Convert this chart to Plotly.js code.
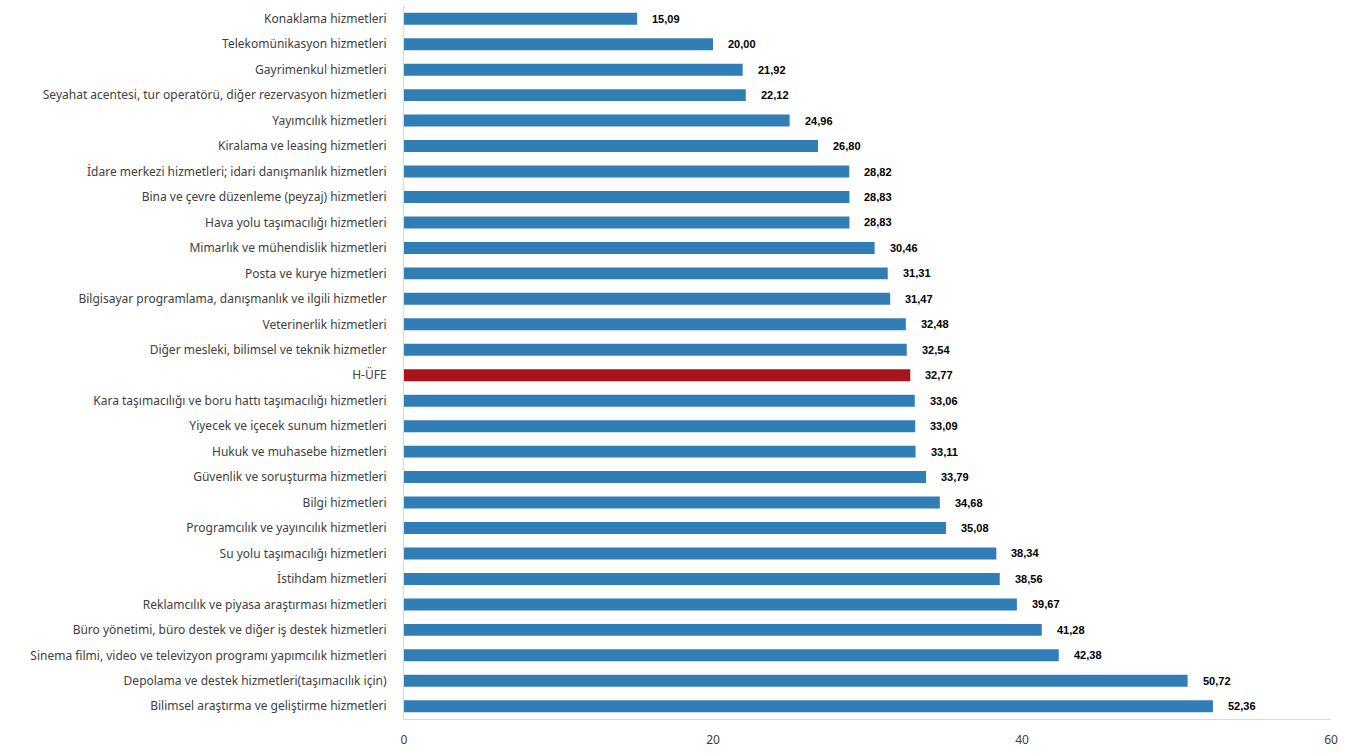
<!DOCTYPE html>
<html><head><meta charset="utf-8">
<script src="https://cdn.plot.ly/plotly-3.0.1.min.js"></script>
<style>html,body{margin:0;padding:0;background:#fff}#chart{width:1356px;height:756px}</style>
</head><body><div id="chart"></div>
<script>
const categories = [
"Konaklama hizmetleri",
"Telekomünikasyon hizmetleri",
"Gayrimenkul hizmetleri",
"Seyahat acentesi, tur operatörü, diğer rezervasyon hizmetleri",
"Yayımcılık hizmetleri",
"Kiralama ve leasing hizmetleri",
"İdare merkezi hizmetleri; idari danışmanlık hizmetleri",
"Bina ve çevre düzenleme (peyzaj) hizmetleri",
"Hava yolu taşımacılığı hizmetleri",
"Mimarlık ve mühendislik hizmetleri",
"Posta ve kurye hizmetleri",
"Bilgisayar programlama, danışmanlık ve ilgili hizmetler",
"Veterinerlik hizmetleri",
"Diğer mesleki, bilimsel ve teknik hizmetler",
"H-ÜFE",
"Kara taşımacılığı ve boru hattı taşımacılığı hizmetleri",
"Yiyecek ve içecek sunum hizmetleri",
"Hukuk ve muhasebe hizmetleri",
"Güvenlik ve soruşturma hizmetleri",
"Bilgi hizmetleri",
"Programcılık ve yayıncılık hizmetleri",
"Su yolu taşımacılığı hizmetleri",
"İstihdam hizmetleri",
"Reklamcılık ve piyasa araştırması hizmetleri",
"Büro yönetimi, büro destek ve diğer iş destek hizmetleri",
"Sinema filmi, video ve televizyon programı yapımcılık hizmetleri",
"Depolama ve destek hizmetleri(taşımacılık için)",
"Bilimsel araştırma ve geliştirme hizmetleri"
];
const values = [15.09,20.00,21.92,22.12,24.96,26.80,28.82,28.83,28.83,30.46,31.31,31.47,32.48,32.54,32.77,33.06,33.09,33.11,33.79,34.68,35.08,38.34,38.56,39.67,41.28,42.38,50.72,52.36];
const highlight = "H-ÜFE";
const tickVals = [0,20,40,60];

const BLUE = "#317DB6", RED = "#A8141C";
const colors = categories.map(c => c === highlight ? RED : BLUE);
const fmt = v => v.toFixed(2).replace(".", ",");

const trace = {
  type: "bar", orientation: "h",
  x: values, y: categories,
  marker: {color: colors},
  width: 0.47,
  hoverinfo: "x+y"
};

const annotations = values.map((v, i) => ({
  x: v, y: categories[i], xref: "x", yref: "y",
  text: fmt(v), showarrow: false, xanchor: "left", yanchor: "middle",
  xshift: 13,
  font: {family: "Liberation Sans, Arial, sans-serif", size: 11, color: "#000", weight: "bold"}
}));

const layout = {
  width: 1356, height: 756,
  margin: {l: 404, r: 25, t: 6, b: 37, pad: 0},
  paper_bgcolor: "#fff", plot_bgcolor: "#fff",
  showlegend: false,
  bargap: 0.53,
  xaxis: {
    range: [0, 60], tickvals: tickVals, ticktext: tickVals.map(String),
    showgrid: false, zeroline: false,
    showline: true, linecolor: "#d9d9d9", linewidth: 1,
    ticks: "", ticklabelstandoff: 10,
    tickfont: {family: "Noto Sans, Open Sans, sans-serif", size: 12, color: "#404040"},
    fixedrange: true
  },
  yaxis: {
    type: "category", autorange: "reversed",
    showgrid: false, zeroline: false,
    showline: true, linecolor: "#d9d9d9", linewidth: 1,
    ticks: "", ticklabelstandoff: 14,
    tickfont: {family: "Noto Sans, Open Sans, sans-serif", size: 12, color: "#404040"},
    fixedrange: true
  },
  annotations: annotations
};

Plotly.newPlot("chart", [trace], layout, {displayModeBar: false, staticPlot: true});
</script></body></html>
